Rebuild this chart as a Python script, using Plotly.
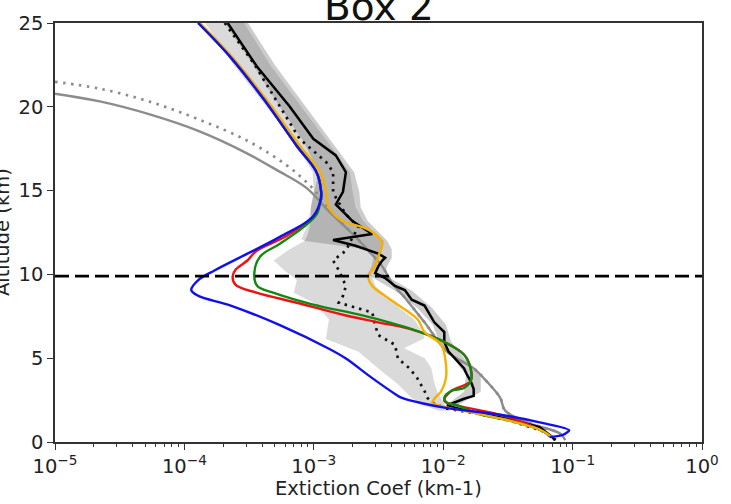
import plotly.graph_objects as go

# ---------------- data ----------------
tropopause_km = 9.9

blue_alt = [25.0, 22.95, 20.43, 17.68, 16.10, 14.93, 14.58, 13.47, 12.24, 11.24, 10.25, 9.66, 9.07, 8.72, 8.14,
            6.97, 5.56, 4.98, 3.81, 2.87, 2.63, 2.28, 2.05, 1.58, 1.17, 0.70, 0.55, 0.41, 0.29]
blue_x = [1.28e-4, 2.28e-4, 4.13e-4, 7.37e-4, 1.05e-3, 1.14e-3, 1.14e-3, 9.9e-4, 5.47e-4, 3.07e-4, 1.72e-4, 1.28e-4,
          1.13e-4, 1.28e-4, 2.28e-4, 5.47e-4, 1.31e-3, 1.77e-3, 2.83e-3, 4.24e-3, 4.80e-3, 7.17e-3, 1.02e-2, 3.0e-2,
          5.56e-2, 9.4e-2, 9.0e-2, 8.3e-2, 6.63e-2]

red_alt = [25.0, 22.95, 20.43, 17.68, 16.10, 14.9, 14.3, 13.5, 12.3, 11.4, 10.83, 10.3, 9.89, 9.37, 8.90, 8.31,
           7.55, 7.14, 6.73, 5.97, 5.21, 4.39, 3.63, 3.04, 2.46, 2.17, 1.58, 0.70, 0.3]
red_x = [1.28e-4, 2.28e-4, 4.13e-4, 7.37e-4, 1.05e-3, 1.14e-3, 1.12e-3, 1.0e-3, 6.2e-4, 3.6e-4, 3.07e-4, 2.5e-4,
         2.36e-4, 2.49e-4, 3.66e-4, 7.37e-4, 1.77e-3, 3.15e-3, 5.6e-3, 1.02e-2, 1.45e-2, 1.63e-2, 1.63e-2, 1.15e-2,
         1.02e-2, 1.3e-2, 2.9e-2, 5.7e-2, 6.9e-2]

green_alt = [25.0, 22.95, 20.43, 17.68, 16.10, 14.93, 14.3, 13.58, 12.82, 11.83, 11.07, 10.07, 9.31, 8.90, 8.20,
             7.55, 6.73, 5.97, 5.21, 4.39, 3.63, 3.22, 3.04, 2.63, 2.34, 2.17, 1.70, 1.29, 0.70, 0.29]
green_x = [1.28e-4, 2.28e-4, 4.13e-4, 7.37e-4, 1.05e-3, 1.14e-3, 1.12e-3, 1.05e-3, 8.32e-4, 5.47e-4, 3.85e-4,
           3.47e-4, 3.66e-4, 4.92e-4, 9.91e-4, 2.38e-3, 5.71e-3, 1.02e-2, 1.45e-2, 1.63e-2, 1.63e-2, 1.45e-2,
           1.15e-2, 1.02e-2, 1.07e-2, 1.3e-2, 1.82e-2, 3.2e-2, 5.7e-2, 6.9e-2]

orange_alt = [25.0, 22.95, 20.43, 17.68, 16.10, 14.93, 13.99, 13.17, 12.82, 12.41, 11.83, 11.07, 10.48, 9.89, 9.31,
              8.72, 8.31, 7.32, 6.56, 5.80, 4.63, 3.81, 3.04, 2.58, 2.34, 2.17, 1.70, 1.29, 0.70, 0.29]
orange_x = [1.32e-4, 2.35e-4, 4.3e-4, 7.8e-4, 1.12e-3, 1.24e-3, 1.31e-3, 1.68e-3, 2.38e-3, 2.98e-3, 3.38e-3,
            3.15e-3, 2.98e-3, 2.64e-3, 2.83e-3, 3.56e-3, 4.24e-3, 6.34e-3, 7.17e-3, 9.66e-3, 1.05e-2, 1.05e-2,
            9.66e-3, 8.54e-3, 8.24e-3, 9.3e-3, 1.82e-2, 3.2e-2, 5.7e-2, 6.9e-2]

black_alt = [25.0, 22.37, 20.02, 18.09, 17.10, 16.10, 14.93, 14.17, 13.17, 12.41, 12.05, 11.71, 11.24, 11.0, 10.83,
             10.48, 10.07, 9.78, 9.31, 9.07, 8.49, 8.14, 7.14, 6.56, 5.97, 5.39, 4.39, 4.04, 3.63, 3.16, 2.75, 2.58,
             2.34, 2.17, 1.76, 1.41, 0.88, 0.29, 0.1]
black_x = [2.16e-4, 3.66e-4, 6.51e-4, 9.91e-4, 1.48e-3, 1.77e-3, 1.68e-3, 1.48e-3, 2.0e-3, 2.83e-3, 1.41e-3,
           2.1e-3, 3.15e-3, 3.56e-3, 3.38e-3, 3.15e-3, 2.98e-3, 3.56e-3, 4.24e-3, 5.05e-3, 5.71e-3, 7.17e-3,
           8.54e-3, 1.02e-2, 1.02e-2, 1.1e-2, 1.45e-2, 1.52e-2, 1.63e-2, 1.72e-2, 1.72e-2, 1.45e-2, 1.21e-2,
           1.07e-2, 1.72e-2, 3.07e-2, 5.56e-2, 6.98e-2, 7.3e-2]

bdot_alt = [25.0, 22.54, 20.02, 18.09, 16.69, 16.1, 14.93, 14.58, 13.58, 12.82, 12.24, 11.42, 10.83, 10.25, 9.31,
            8.72, 8.31, 7.90, 7.73, 6.97, 6.38, 5.80, 4.98, 4.39, 3.81, 3.04, 2.63, 2.34, 1.99, 1.70, 1.29, 0.70,
            0.29, 0.1]
bdot_x = [2.05e-4, 3.47e-4, 5.47e-4, 7.76e-4, 1.25e-3, 1.41e-3, 1.41e-3, 1.48e-3, 1.77e-3, 2.22e-3, 2.0e-3, 1.77e-3,
          1.41e-3, 1.56e-3, 1.77e-3, 1.68e-3, 1.56e-3, 2.38e-3, 2.83e-3, 2.98e-3, 3.15e-3, 4.24e-3, 4.47e-3, 5.5e-3,
          6.3e-3, 7.17e-3, 7.56e-3, 8.24e-3, 1.07e-2, 1.82e-2, 3.2e-2, 5.7e-2, 6.9e-2, 7.5e-2]

gray_alt = [20.78, 20.32, 19.56, 18.56, 17.21, 16.22, 15.16, 13.76, 12.41, 11.42, 10.48, 9.48, 8.61, 7.14, 5.39,
            4.39, 3.63, 2.63, 1.87, 1.11, 0.53, 0.12]
gray_x = [1e-5, 2.22e-5, 5.32e-5, 1.28e-4, 3.07e-4, 5.19e-4, 8.77e-4, 1.31e-3, 2.0e-3, 2.64e-3, 3.38e-3, 4.03e-3,
          5.05e-3, 7.17e-3, 1.07e-2, 1.72e-2, 2.16e-2, 2.76e-2, 3.01e-2, 4.67e-2, 7.89e-2, 8.77e-2]

gdot_alt = [21.49, 21.08, 20.32, 19.26, 17.97, 16.51, 15.34, 14.5, 13.76, 12.41, 11.42, 10.48, 9.48, 8.61, 7.14,
            5.39, 4.39, 3.63, 2.63, 1.87, 1.11, 0.53, 0.12]
gdot_x = [1e-5, 2.22e-5, 5.32e-5, 1.28e-4, 3.07e-4, 6.18e-4, 9.24e-4, 1.15e-3, 1.35e-3, 2.0e-3, 2.64e-3, 3.38e-3,
          4.03e-3, 5.05e-3, 7.17e-3, 1.07e-2, 1.72e-2, 2.16e-2, 2.76e-2, 3.01e-2, 4.67e-2, 7.89e-2, 8.77e-2]

# spread bands
bandA_alt = [25, 22.5, 20, 18, 16.1, 14.9, 14.0, 13.2, 12.4, 12.0, 11.5, 11.0, 10.5, 10.0, 9.0, 8.0, 7.0, 6.0,
             5.0, 4.0, 3.0, 2.2]
bandA_lo = [2.05e-4, 3.4e-4, 5.47e-4, 8.2e-4, 1.1e-3, 1.0e-3, 9.5e-4, 9.5e-4, 9.0e-4, 8.5e-4, 2.6e-3, 2.9e-3,
            2.8e-3, 2.6e-3, 4.3e-3, 6.3e-3, 8.3e-3, 9.3e-3, 1.2e-2, 1.5e-2, 1.45e-2, 1.05e-2]
bandA_hi = [3.1e-4, 5.0e-4, 8.8e-4, 1.35e-3, 2.05e-3, 2.25e-3, 2.3e-3, 2.6e-3, 3.3e-3, 3.7e-3, 4.0e-3, 4.0e-3,
            3.7e-3, 3.5e-3, 5.8e-3, 8.2e-3, 1.05e-2, 1.15e-2, 1.45e-2, 1.95e-2, 1.95e-2, 1.3e-2]

bandB_lo_alt = [25, 22.5, 20, 18, 16.1, 14.9, 14.0, 13.0, 12.1, 12.0, 11.5, 10.83, 10.2, 9.66, 8.90, 8.31, 7.32,
                6.15, 5.39, 4.39, 3.45, 2.63, 2.17, 1.87]
bandB_lo = [1.45e-4, 2.4e-4, 4.3e-4, 7.0e-4, 9.8e-4, 1.0e-3, 9.5e-4, 9.0e-4, 8.0e-4, 8.5e-4, 6.5e-4, 4.9e-4,
            6.0e-4, 7.4e-4, 7.0e-4, 9.9e-4, 1.31e-3, 1.24e-3, 2.22e-3, 3.15e-3, 4.47e-3, 5.71e-3, 7.2e-3, 9.3e-3]
bandB_hi_alt = [1.87, 2.4, 3.0, 3.6, 4.4, 5.0, 5.6, 6.2, 6.8, 7.3, 8.0, 8.5, 9.3, 10.07, 10.66, 11.24, 12.0, 12.4,
                13.2, 14.0, 14.9, 16.1, 18, 20, 22.5, 25]
bandB_hi = [1.1e-2, 1.0e-2, 9.0e-3, 8.5e-3, 8.1e-3, 7.2e-3, 5.0e-3, 7.2e-3, 6.6e-3, 6.0e-3, 4.6e-3, 3.9e-3, 3.0e-3,
            2.75e-3, 3.0e-3, 3.3e-3, 3.5e-3, 3.0e-3, 2.4e-3, 2.1e-3, 2.0e-3, 1.9e-3, 1.25e-3, 8.0e-4, 4.6e-4, 2.9e-4]

x_tick_vals = [1e-5, 1e-4, 1e-3, 1e-2, 1e-1, 1e0]
x_tick_text = ["10<sup>\u22125</sup>", "10<sup>\u22124</sup>", "10<sup>\u22123</sup>",
               "10<sup>\u22122</sup>", "10<sup>\u22121</sup>", "10<sup>0</sup>"]
y_tick_vals = [0, 5, 10, 15, 20, 25]

title_text = "Box 2"
x_label = "Extiction Coef (km-1)"
y_label = "Altitude (km)"

# ---------------- figure ----------------
FONT = "DejaVu Sans"
FS = 19.5
fig = go.Figure()

# bands
fig.add_trace(go.Scatter(x=bandB_lo + bandB_hi, y=bandB_lo_alt + bandB_hi_alt, fill="toself",
                         fillcolor="rgba(140,140,140,0.32)", line=dict(width=0), mode="lines",
                         hoverinfo="skip", showlegend=False))
fig.add_trace(go.Scatter(x=bandA_lo + bandA_hi[::-1], y=bandA_alt + bandA_alt[::-1], fill="toself",
                         fillcolor="rgba(110,110,110,0.35)", line=dict(width=0), mode="lines",
                         hoverinfo="skip", showlegend=False))

def line(x, y, color, dash="solid", width=2.4, shape="linear"):
    fig.add_trace(go.Scatter(x=x, y=y, mode="lines", showlegend=False,
                             line=dict(color=color, width=width, dash=dash, shape=shape)))

line(gdot_x, gdot_alt, "#8c8c8c", dash="2.5px,5.5px", width=2.7, shape="spline")
line(gray_x, gray_alt, "#8c8c8c", shape="spline")
line(bdot_x, bdot_alt, "#111111", dash="2.5px,5px", width=2.7)
line(black_x, black_alt, "#000000", width=2.5)
line(red_x, red_alt, "#ee1111", shape="spline")
line(green_x, green_alt, "#118811", shape="spline")
line(orange_x, orange_alt, "#f5b000", shape="spline")
line(blue_x, blue_alt, "#1010ee", shape="spline")

# tropopause line
fig.add_shape(type="line", xref="x domain", yref="y", x0=0, x1=1, y0=tropopause_km, y1=tropopause_km,
              line=dict(color="#000000", width=2.6, dash="14px,6px"), layer="above")

minor_vals = [m * 10.0 ** e for e in range(-5, 0) for m in range(2, 10)]

fig.update_layout(
    width=731, height=504,
    margin=dict(l=55, r=19, t=15, b=62),
    paper_bgcolor="white", plot_bgcolor="white",
    font=dict(family=FONT, size=FS, color="#222222"),
    showlegend=False,
    xaxis=dict(type="log", range=[-5, 0], tickmode="array", tickvals=x_tick_vals, ticktext=x_tick_text,
               ticks="outside", ticklen=6, tickwidth=1.3, tickcolor="#333333",
               showline=True, linecolor="#333333", linewidth=1.6, mirror=True,
               showgrid=False, zeroline=False,
               minor=dict(tickmode="array", tickvals=minor_vals, ticks="outside", ticklen=3.5,
                          tickwidth=1, tickcolor="#333333", showgrid=False),
               tickfont=dict(size=FS, family=FONT)),
    yaxis=dict(range=[0, 25], tickmode="array", tickvals=y_tick_vals,
               ticks="outside", ticklen=6, tickwidth=1.3, tickcolor="#333333",
               showline=True, linecolor="#333333", linewidth=1.6, mirror=True,
               showgrid=False, zeroline=False, tickfont=dict(size=FS, family=FONT)),
)

fig.add_annotation(text=title_text, xref="paper", yref="paper", x=0.5, y=0.982, xanchor="center",
                   yanchor="bottom", showarrow=False, font=dict(size=39, family=FONT, color="#111111"))
fig.add_annotation(text=x_label, xref="paper", yref="paper", x=0.5, y=-0.112, xanchor="center",
                   yanchor="middle", showarrow=False, font=dict(size=FS, family=FONT, color="#222222"))
fig.add_annotation(text=y_label, xref="paper", yref="paper", x=-0.081, y=0.5, xanchor="center",
                   yanchor="middle", textangle=-90, showarrow=False,
                   font=dict(size=FS, family=FONT, color="#222222"))

fig.write_html("out.html")
